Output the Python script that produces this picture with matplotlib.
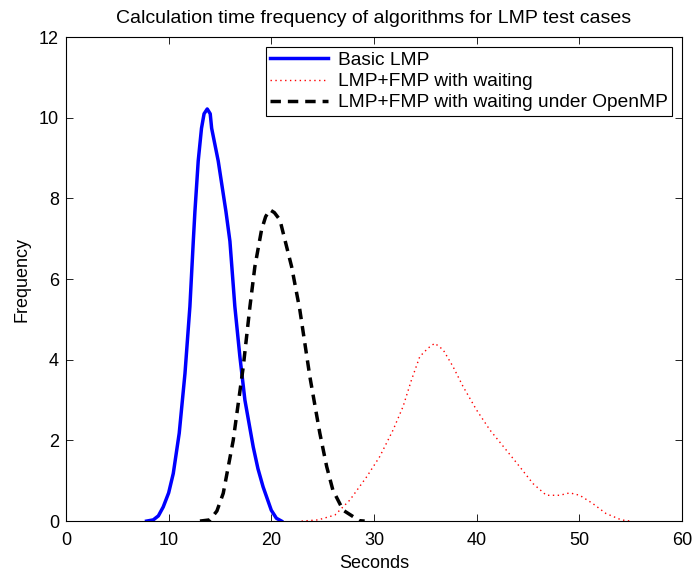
import matplotlib.pyplot as plt
import numpy as np

plt.rcParams['font.family'] = ['Liberation Sans', 'DejaVu Sans']

# values
basic_x = [7.85, 8.5, 9.0, 9.47, 10.0, 10.45, 11.03, 11.59, 12.07, 12.4, 12.56, 12.88, 13.2,
           13.45, 13.76, 14.05, 14.19, 14.83, 15.58, 15.97, 16.45, 16.94, 17.43, 18.24,
           18.7, 19.2, 20.0, 20.5, 21.0]
basic_y = [0.0, 0.03, 0.13, 0.35, 0.7, 1.18, 2.18, 3.66, 5.32, 6.94, 7.68, 8.93, 9.74,
           10.1, 10.22, 10.1, 9.74, 8.93, 7.68, 6.94, 5.32, 4.08, 3.0, 1.84,
           1.3, 0.85, 0.27, 0.07, 0.0]

wait_x = [22.95, 24.57, 26.2, 27.65, 29.3, 30.57, 31.87, 32.84, 33.66, 34.47, 35.28, 35.93,
          36.74, 37.71, 38.68, 39.99, 41.3, 42.9, 44.2, 45.5, 46.8, 48.1, 49.08, 50.05,
          51.3, 52.6, 54.1, 55.0]
wait_y = [0.0, 0.03, 0.15, 0.52, 1.1, 1.6, 2.26, 2.84, 3.5, 4.08, 4.29, 4.41,
          4.25, 3.83, 3.34, 2.76, 2.26, 1.76, 1.35, 0.93, 0.64, 0.64, 0.7, 0.64,
          0.44, 0.19, 0.03, 0.0]

omp_x = [13.05, 14.02, 14.7, 15.32, 16.29, 17.27, 17.92, 18.4, 19.05, 19.45, 19.86, 20.3,
         20.84, 21.98, 22.78, 23.76, 24.73, 25.4, 26.0, 27.0, 28.6, 29.1]
omp_y = [0.0, 0.03, 0.25, 0.69, 2.0, 3.83, 5.32, 6.31, 7.22, 7.55, 7.72, 7.65,
         7.47, 6.31, 5.24, 3.58, 2.18, 1.35, 0.77, 0.27, 0.01, 0.0]

fig = plt.figure(figsize=(6.95, 5.72), dpi=100)
ax = fig.add_axes([0.095, 0.089, 0.886, 0.846])

ax.plot(basic_x, basic_y, color='blue', linewidth=2.5, label='Basic LMP')
ax.plot(wait_x, wait_y, color='red', linewidth=1.0, linestyle=(0, (1, 2.5)),
        label='LMP+FMP with waiting')
ax.plot(omp_x, omp_y, color='black', linewidth=2.5, linestyle=(0, (3, 2)),
        label='LMP+FMP with waiting under OpenMP')

ax.set_xlim(0, 60)
ax.set_ylim(0, 12)
ax.set_xticks(np.arange(0, 61, 10))
ax.set_yticks(np.arange(0, 13, 2))
ax.tick_params(direction='in', top=True, right=True, labelsize=13, length=5, width=0.6, pad=5)
ax.tick_params(axis='x', pad=8)
for s in ax.spines.values():
    s.set_linewidth(0.8)

ax.set_xlabel('Seconds', fontsize=13, labelpad=4)
ax.set_ylabel('Frequency', fontsize=13, labelpad=6)
ax.set_title('Calculation time frequency of algorithms for LMP test cases', fontsize=14, pad=10)

leg = ax.legend(loc='upper right', fontsize=13.8, fancybox=False, framealpha=1,
                edgecolor='black', borderaxespad=0.5, handlelength=3, labelspacing=0.2,
                borderpad=0.25, handletextpad=0.5)
leg.get_frame().set_linewidth(0.8)

fig.savefig('out.png', dpi=100)
